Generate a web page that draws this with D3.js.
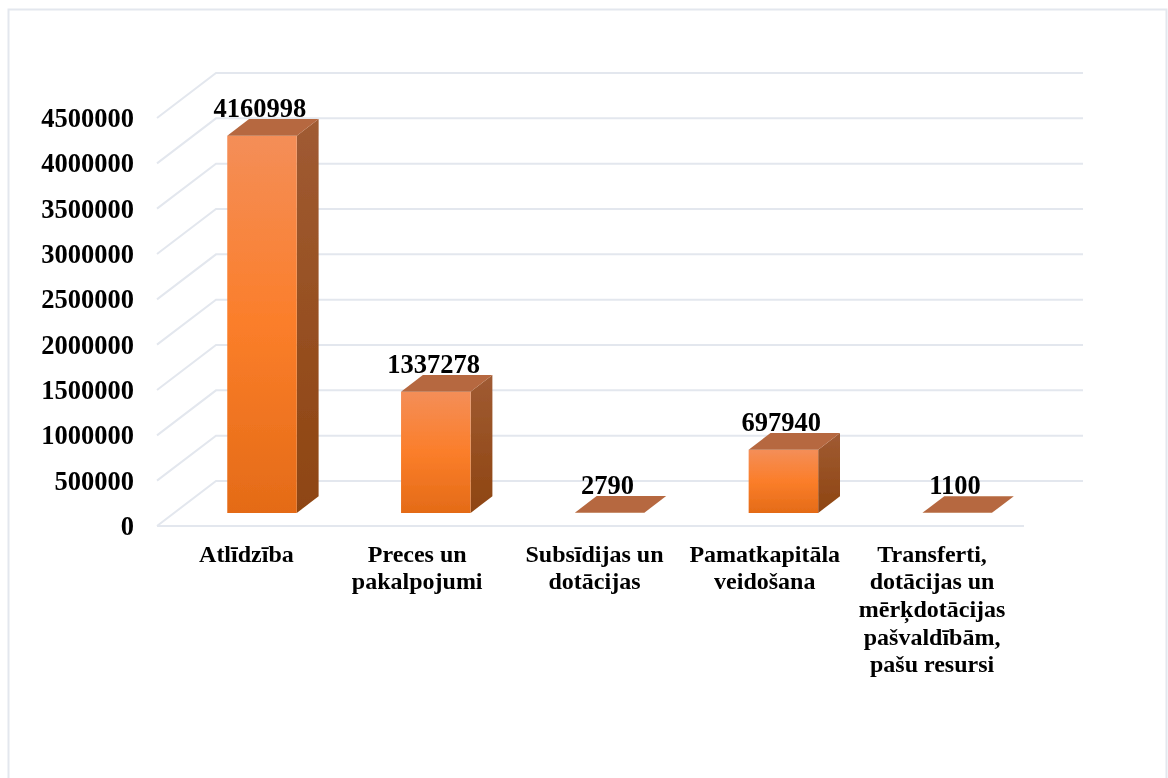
<!DOCTYPE html>
<html>
<head>
<meta charset="utf-8">
<script src="https://cdn.jsdelivr.net/npm/d3@7"></script>
<style>
  html, body { margin: 0; padding: 0; background: #fff; }
  svg { display: block; }
  text { font-family: "Liberation Serif", serif; font-weight: bold; fill: #000; }
</style>
</head>
<body>
<div id="chart"></div>
<script>
var categories = ["Atlīdzība", "Preces un pakalpojumi", "Subsīdijas un dotācijas", "Pamatkapitāla veidošana", "Transferti, dotācijas un mērķdotācijas pašvaldībām, pašu resursi"];
var categoryLines = [
  ["Atlīdzība"],
  ["Preces un", "pakalpojumi"],
  ["Subsīdijas un", "dotācijas"],
  ["Pamatkapitāla", "veidošana"],
  ["Transferti,", "dotācijas un", "mērķdotācijas", "pašvaldībām,", "pašu resursi"]
];
var values = [4160998, 1337278, 2790, 697940, 1100];
var ticks = [0, 500000, 1000000, 1500000, 2000000, 2500000, 3000000, 3500000, 4000000, 4500000];

var width = 1168,
    height = 778,
    depthX = 59,
    depthY = 45,
    barNear = 0.29,
    barFar = 0.66,
    floorLeft = 157,
    floorRight = 1024,
    gridColor = "#e3e7ee";

// the category labels do not sit quite on the band centres in the original
var labelNudge = [1.5, -1.5, 2, -1.5, -8];

var svg = d3.select("#chart").append("svg")
  .attr("width", width)
  .attr("height", height);

var y = d3.scaleLinear().domain([0, 4500000]).range([526, 118]);

var x = d3.scaleBand().domain(categories).range([158, 1027])
  .paddingInner(0.6)
  .paddingOuter(0.3);

// floor position + value + depth into the box, all flattened to a point
function project(px, value, depth) {
  return [px + depth * depthX, y(value) - depth * depthY];
}

function poly(points) {
  return "M" + points.map(function(p) { return p.join(","); }).join("L") + "Z";
}

var defs = svg.append("defs");

var frontGrad = defs.append("linearGradient").attr("id", "front").attr("x1", 0).attr("y1", 0).attr("x2", 0).attr("y2", 1);
frontGrad.append("stop").attr("offset", "0%").attr("stop-color", "#f48e58");
frontGrad.append("stop").attr("offset", "50%").attr("stop-color", "#fb7e2a");
frontGrad.append("stop").attr("offset", "100%").attr("stop-color", "#e46b17");

var sideGrad = defs.append("linearGradient").attr("id", "side").attr("x1", 0).attr("y1", 0).attr("x2", 0).attr("y2", 1);
sideGrad.append("stop").attr("offset", "0%").attr("stop-color", "#a05b33");
sideGrad.append("stop").attr("offset", "100%").attr("stop-color", "#8e4511");

defs.append("filter").attr("id", "soft").append("feGaussianBlur").attr("stdDeviation", 0.5);
defs.append("filter").attr("id", "softText").append("feGaussianBlur").attr("stdDeviation", 0.3);

// outer frame
svg.append("path")
  .attr("d", "M8.5," + height + "V9.5H1166.5V" + height)
  .attr("fill", "none")
  .attr("stroke", gridColor)
  .attr("stroke-width", 2);

// grid: back wall, side wall, floor
var grid = svg.append("g")
  .attr("fill", "none")
  .attr("stroke", gridColor)
  .attr("stroke-width", 2)
  .attr("filter", "url(#soft)");

ticks.forEach(function(t) {
  var a = project(floorLeft, t, 0), b = project(floorLeft, t, 1), c = project(floorRight, t, 1);
  grid.append("path").attr("d", "M" + a + "L" + b + "L" + c);
});
grid.append("path").attr("d", "M" + project(floorLeft, 0, 0) + "L" + project(floorRight, 0, 0));

// y axis labels
svg.append("g").attr("filter", "url(#softText)").selectAll("text")
  .data(ticks)
  .enter()
  .append("text")
  .attr("x", 134)
  .attr("y", function(d) { return y(d) + 9; })
  .attr("text-anchor", "end")
  .style("font-size", "26.5px")
  .text(function(d) { return d; });

// bars
var bars = svg.append("g").attr("filter", "url(#soft)")
  .selectAll("g")
  .data(categories)
  .enter()
  .append("g");

bars.each(function(name, i) {
  var g = d3.select(this),
      x0 = x(name),
      x1 = x0 + x.bandwidth(),
      v = values[i];

  if (y(0) - y(v) > 1) {
    g.append("path")
      .attr("d", poly([project(x1, 0, barNear), project(x1, 0, barFar), project(x1, v, barFar), project(x1, v, barNear)]))
      .attr("fill", "url(#side)");
    g.append("path")
      .attr("d", poly([project(x0, 0, barNear), project(x1, 0, barNear), project(x1, v, barNear), project(x0, v, barNear)]))
      .attr("fill", "url(#front)");
  }
  g.append("path")
    .attr("d", poly([project(x0, v, barNear), project(x1, v, barNear), project(x1, v, barFar), project(x0, v, barFar)]))
    .attr("fill", "#b6683f");
});

// value labels
svg.append("g").attr("filter", "url(#softText)").selectAll("text")
  .data(categories)
  .enter()
  .append("text")
  .attr("x", function(d) { return x(d) + x.bandwidth() / 2 + 15; })
  .attr("y", function(d, i) { return project(0, values[i], barFar)[1] - 2; })
  .attr("text-anchor", "middle")
  .style("font-size", "26.5px")
  .text(function(d, i) { return values[i]; });

// category labels
var labels = svg.append("g").attr("filter", "url(#softText)").selectAll("text")
  .data(categories)
  .enter()
  .append("text")
  .attr("text-anchor", "middle")
  .style("font-size", "24px");

labels.each(function(d, i) {
  var cx = x(d) + x.bandwidth() / 2 + labelNudge[i];
  d3.select(this).selectAll("tspan")
    .data(categoryLines[i])
    .enter()
    .append("tspan")
    .attr("x", cx)
    .attr("y", function(l, j) { return 561.5 + j * 27.7; })
    .text(function(l) { return l; });
});
</script>
</body>
</html>
